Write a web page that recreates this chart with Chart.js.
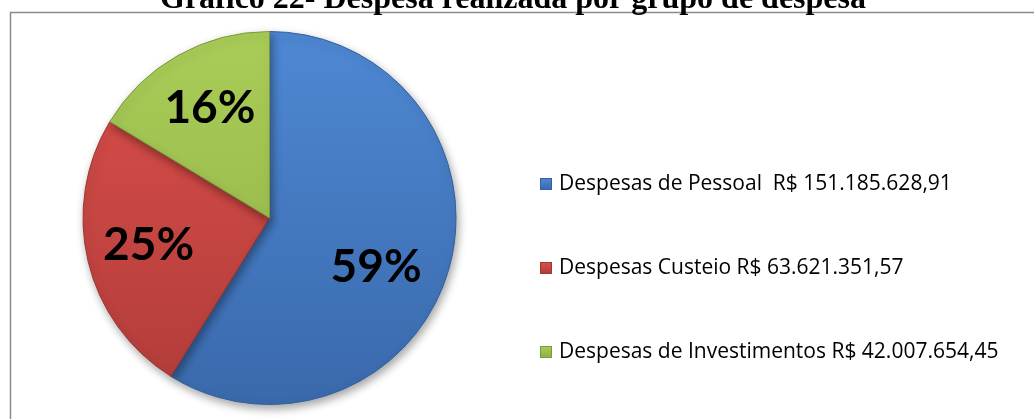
<!DOCTYPE html>
<html>
<head>
<meta charset="utf-8">
<script src="https://cdn.jsdelivr.net/npm/chart.js@4"></script>
<style>
  html, body { margin: 0; padding: 0; background: #fff; }
  #wrap { position: relative; width: 1034px; height: 419px; }
</style>
</head>
<body>
<div id="wrap"><canvas id="pieChart" width="1034" height="419"></canvas></div>
<script>
var titleText = 'Gráfico 22- Despesa realizada por grupo de despesa';
var categories = ['Despesas de Pessoal', 'Despesas Custeio', 'Despesas de Investimentos'];
var legendLabels = ['Despesas de Pessoal  R$ 151.185.628,91', 'Despesas Custeio R$ 63.621.351,57', 'Despesas de Investimentos R$ 42.007.654,45'];
var values = [151185628.91, 63621351.57, 42007654.45];
var percentLabels = ['59%', '25%', '16%'];

var topColors = ['#4e88d4', '#dc4f4b', '#aacd58'];
var bottomColors = ['#3a69ab', '#b03c39', '#8daf44'];
var edgeColors = ['#33609e', '#9e3632', '#7b9a3b'];

function sliceFill(context) {
    var chart = context.chart;
    var area = chart.chartArea;
    var i = context.dataIndex;
    if (!area) return topColors[i];
    var g = chart.ctx.createLinearGradient(0, area.top, 0, area.bottom);
    g.addColorStop(0, topColors[i]);
    g.addColorStop(1, bottomColors[i]);
    return g;
}

var framePlugin = {
    id: 'frame',
    beforeDraw: function (chart) {
        var c = chart.ctx;
        c.save();
        c.fillStyle = '#ffffff';
        c.fillRect(0, 0, chart.width, chart.height);
        c.strokeStyle = '#8a8a8a';
        c.lineWidth = 1.5;
        c.strokeRect(10.5, 12.5, 1100, 500);
        // title, only its lower part is inside the picture
        c.fillStyle = '#000';
        c.font = 'bold 32px "Liberation Serif", "Times New Roman", serif';
        c.textAlign = 'center';
        c.textBaseline = 'alphabetic';
        c.fillText(titleText, 513, 8);
        c.restore();
    }
};

var shadowPlugin = {
    id: 'pieShadow',
    beforeDatasetsDraw: function (chart) {
        var c = chart.ctx;
        c.save();
        c.shadowColor = 'rgba(0,0,0,0.35)';
        c.shadowBlur = 9;
        c.shadowOffsetX = 2;
        c.shadowOffsetY = 4;
    },
    afterDatasetsDraw: function (chart) {
        chart.ctx.restore();
    }
};

// small nudges of the label anchor, in pixels
var labelNudge = [[-10, 16], [-3, -1], [0, -4]];

var labelPlugin = {
    id: 'pctLabels',
    afterDatasetsDraw: function (chart) {
        var c = chart.ctx;
        var arcs = chart.getDatasetMeta(0).data;
        c.save();
        c.fillStyle = '#000';
        c.font = 'bold 46px Lato, "Open Sans", sans-serif';
        c.textAlign = 'center';
        c.textBaseline = 'middle';
        arcs.forEach(function (arc, i) {
            var p = arc.getProps(['x', 'y', 'startAngle', 'endAngle', 'outerRadius'], true);
            var mid = (p.startAngle + p.endAngle) / 2;
            var r = p.outerRadius * 0.65;
            c.fillText(percentLabels[i], p.x + Math.cos(mid) * r + labelNudge[i][0], p.y + Math.sin(mid) * r + labelNudge[i][1]);
        });
        c.restore();
    }
};

var legendPlugin = {
    id: 'sideLegend',
    afterDraw: function (chart) {
        var c = chart.ctx;
        c.save();
        c.font = '21px "Open Sans", Lato, sans-serif';
        c.textBaseline = 'middle';
        c.textAlign = 'left';
        legendLabels.forEach(function (txt, i) {
            var y = 184 + i * 84;
            var g = c.createLinearGradient(0, y - 6, 0, y + 6);
            g.addColorStop(0, topColors[i]);
            g.addColorStop(1, bottomColors[i]);
            c.fillStyle = g;
            c.fillRect(540, y - 6, 12, 12);
            c.strokeStyle = edgeColors[i];
            c.lineWidth = 1;
            c.strokeRect(540.5, y - 5.5, 11, 11);
            c.fillStyle = '#000';
            c.fillText(txt, 559, y);
        });
        c.restore();
    }
};

new Chart(document.getElementById('pieChart').getContext('2d'), {
    type: 'pie',
    data: {
        labels: categories,
        datasets: [{
            data: values,
            backgroundColor: sliceFill,
            borderColor: edgeColors,
            borderWidth: 1
        }]
    },
    options: {
        responsive: false,
        animation: false,
        layout: { padding: { left: 81, top: 31, right: 576, bottom: 14 } },
        plugins: {
            legend: { display: false },
            tooltip: { enabled: false },
            title: { display: false }
        }
    },
    plugins: [framePlugin, shadowPlugin, labelPlugin, legendPlugin]
});
</script>
</body>
</html>
